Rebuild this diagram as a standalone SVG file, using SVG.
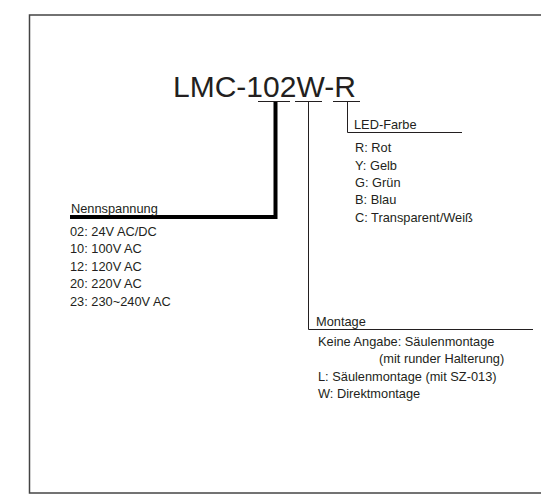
<svg xmlns="http://www.w3.org/2000/svg" width="541" height="495" viewBox="0 0 541 495">
<style>
text{font-family:"Liberation Sans",Arial,sans-serif;fill:#231f20}
.t{font-size:12.8px}
.ln{fill:none;stroke:#231f20;stroke-width:1}
</style>
<rect x="29.5" y="15" width="540" height="478" fill="#fff" stroke="#444" stroke-width="1.5"/>
<g id="title">
<text x="173" y="97" style="font-size:30px">LMC-102W-R</text>
<line class="ln" x1="258" y1="101.5" x2="290" y2="101.5"/>
<line class="ln" x1="295" y1="101.5" x2="322" y2="101.5"/>
<line class="ln" x1="333" y1="101.5" x2="360" y2="101.5"/>
</g>
<g id="connectors">
<polyline points="275.5,102 275.5,217 70,217" fill="none" stroke="#000" stroke-width="4"/>
<polyline class="ln" points="308.5,102 308.5,329.5 533,329.5"/>
<polyline class="ln" points="347.5,102 347.5,132.5 462,132.5"/>
</g>
<g id="nennspannung">
<text class="t" x="71" y="213">Nennspannung</text>
<text class="t" x="70" y="235.5">02: 24V AC/DC</text>
<text class="t" x="70" y="253">10: 100V AC</text>
<text class="t" x="70" y="270.5">12: 120V AC</text>
<text class="t" x="70" y="288">20: 220V AC</text>
<text class="t" x="70" y="305.5">23: 230~240V AC</text>
</g>
<g id="led-farbe">
<text class="t" x="354" y="128.5">LED-Farbe</text>
<text class="t" x="355" y="152">R: Rot</text>
<text class="t" x="355" y="169.5">Y: Gelb</text>
<text class="t" x="355" y="187">G: Grün</text>
<text class="t" x="355" y="204">B: Blau</text>
<text class="t" x="355" y="221.5">C: Transparent/Weiß</text>
</g>
<g id="montage">
<text class="t" x="316" y="325.5">Montage</text>
<text class="t" x="318" y="345.5">Keine Angabe: Säulenmontage</text>
<text class="t" x="379" y="363">(mit runder Halterung)</text>
<text class="t" x="318" y="380.5">L: Säulenmontage (mit SZ-013)</text>
<text class="t" x="318" y="398">W: Direktmontage</text>
</g>
</svg>
